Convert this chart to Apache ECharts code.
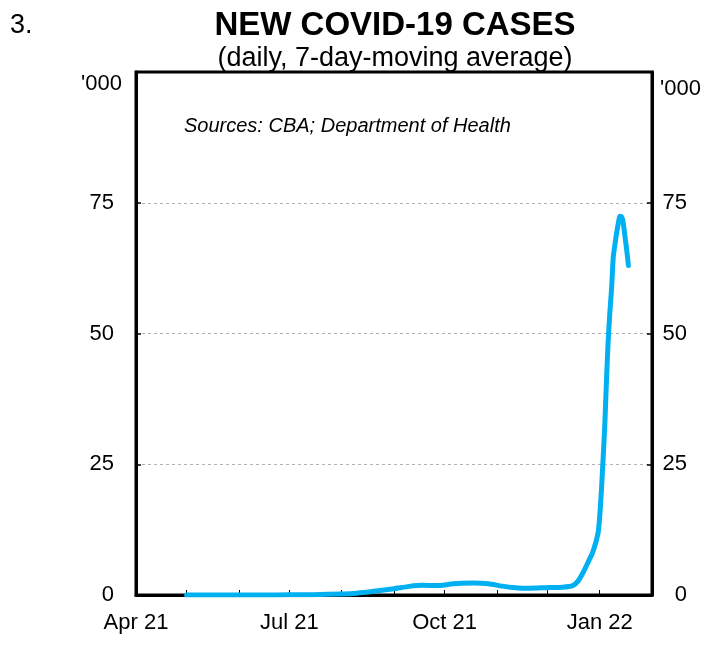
<!DOCTYPE html>
<html>
<head>
<meta charset="utf-8">
<script src="https://cdn.jsdelivr.net/npm/echarts@6/dist/echarts.min.js"></script>
<style>
html,body{margin:0;padding:0;background:#fff;}
#chart{width:721px;height:651px;}
</style>
</head>
<body>
<div id="chart"></div>
<script>
// Dates of observations and 7-day moving average of new cases ('000)
var dates = [
  '2021-05-01','2021-05-15','2021-06-01','2021-06-15','2021-07-01','2021-07-15',
  '2021-08-01','2021-08-10','2021-08-20','2021-09-01','2021-09-10','2021-09-18',
  '2021-09-28','2021-10-06','2021-10-18','2021-10-27','2021-11-04','2021-11-12',
  '2021-11-20','2021-11-30','2021-12-10','2021-12-16','2021-12-19','2021-12-22',
  '2021-12-25','2021-12-28','2021-12-31','2022-01-01','2022-01-02','2022-01-03',
  '2022-01-04','2022-01-05','2022-01-06','2022-01-07','2022-01-08','2022-01-09',
  '2022-01-10','2022-01-11','2022-01-12','2022-01-13','2022-01-14','2022-01-15',
  '2022-01-16','2022-01-17','2022-01-18'
];
var cases = [
  0.01, 0.01, 0.01, 0.02, 0.03, 0.07,
  0.2, 0.35, 0.7, 1.2, 1.65, 1.85,
  1.8, 2.15, 2.3, 2.15, 1.7, 1.4,
  1.3, 1.4, 1.5, 1.8, 2.6, 4.2,
  6.2, 8.3, 11.8, 15, 20, 26,
  32.5, 41, 48.5, 54, 58.5, 64.5,
  67, 69.2, 71, 72.4, 72.3, 71,
  68.5, 66, 63
];
var yTicks = [0, 25, 50, 75, 100];
var axisStart = '2021-04-01';
var axisEnd = '2022-02-01';
var monthNames = ['Jan','Feb','Mar','Apr','May','Jun','Jul','Aug','Sep','Oct','Nov','Dec'];
var labelMonths = ['01','04','07','10'];

// daily category axis from axisStart to axisEnd
function pad(n){return (n<10?'0':'')+n;}
var categories = [];
(function(){
  var p = axisStart.split('-'), e = axisEnd.split('-');
  var d = new Date(Date.UTC(+p[0], +p[1]-1, +p[2]));
  var end = Date.UTC(+e[0], +e[1]-1, +e[2]);
  while (d.getTime() <= end) {
    categories.push(d.getUTCFullYear()+'-'+pad(d.getUTCMonth()+1)+'-'+pad(d.getUTCDate()));
    d = new Date(d.getTime() + 86400000);
  }
})();

var seriesData = dates.map(function(d, i){ return [d, cases[i]]; });

var FONT = '"Liberation Sans", Arial, sans-serif';
var chart = echarts.init(document.getElementById('chart'));
chart.setOption({
  animation: false,
  backgroundColor: '#ffffff',
  grid: {left: 136, right: 69, top: 72, bottom: 56, show: true, borderColor: '#000', borderWidth: 3, backgroundColor: 'transparent'},
  xAxis: {
    type: 'category',
    data: categories,
    boundaryGap: false,
    axisLine: {show: true, lineStyle: {color: '#000', width: 3}},
    axisTick: {
      show: true, inside: true, length: 5,
      lineStyle: {color: '#000', width: 1},
      interval: function(idx, val){ return val.slice(8) === '01'; }
    },
    axisLabel: {
      color: '#000', fontSize: 22, fontFamily: FONT, margin: 17,
      interval: function(idx, val){ return val.slice(8) === '01' && labelMonths.indexOf(val.slice(5,7)) >= 0; },
      formatter: function(val){ return monthNames[+val.slice(5,7)-1] + ' ' + val.slice(2,4); }
    },
    splitLine: {show: false}
  },
  yAxis: [
    {
      type: 'value', min: yTicks[0], max: yTicks[yTicks.length-1], interval: 25, position: 'left',
      axisLine: {show: true, lineStyle: {color: '#000', width: 3}},
      axisTick: {show: true, inside: true, length: 5, lineStyle: {color: '#000', width: 1.5}},
      axisLabel: {color: '#000', fontSize: 22, fontFamily: FONT, margin: 22,
        formatter: function(v){ return v === 100 ? '' : String(v); }},
      splitLine: {show: true, showMaxLine: false, showMinLine: false, lineStyle: {color: '#b0b0b0', width: 1, type: [3, 3]}}
    },
    {
      type: 'value', min: yTicks[0], max: yTicks[yTicks.length-1], interval: 25, position: 'right',
      axisLine: {show: true, lineStyle: {color: '#000', width: 3}},
      axisTick: {show: true, inside: true, length: 5, lineStyle: {color: '#000', width: 1.5}},
      axisLabel: {color: '#000', fontSize: 22, fontFamily: FONT, margin: 35, align: 'right',
        formatter: function(v){ return v === 100 ? '' : String(v); }},
      splitLine: {show: false}
    }
  ],
  series: [{
    type: 'line',
    data: seriesData,
    yAxisIndex: 0,
    showSymbol: false,
    smooth: 0.2,
    lineStyle: {color: '#00B0F0', width: 5, cap: 'round', join: 'round'},
    z: 5
  }],
  graphic: [
    {type: 'text', x: 10, y: 26, style: {text: '3.', font: '27px ' + FONT, fill: '#000', textAlign: 'left', textVerticalAlign: 'middle'}},
    {type: 'text', x: 395, y: 26, style: {text: 'NEW COVID-19 CASES', font: 'bold 33px ' + FONT, fill: '#000', textAlign: 'center', textVerticalAlign: 'middle'}},
    {type: 'text', x: 395, y: 59, style: {text: '(daily, 7-day-moving average)', font: '27px ' + FONT, fill: '#000', textAlign: 'center', textVerticalAlign: 'middle'}},
    {type: 'text', x: 122, y: 84, style: {text: "'000", font: '22px ' + FONT, fill: '#000', textAlign: 'right', textVerticalAlign: 'middle'}},
    {type: 'text', x: 660, y: 89, style: {text: "'000", font: '22px ' + FONT, fill: '#000', textAlign: 'left', textVerticalAlign: 'middle'}},
    {type: 'text', x: 184, y: 126, style: {text: 'Sources: CBA; Department of Health', font: 'italic 20px ' + FONT, fill: '#000', textAlign: 'left', textVerticalAlign: 'middle'}}
  ]
});
</script>
</body>
</html>
